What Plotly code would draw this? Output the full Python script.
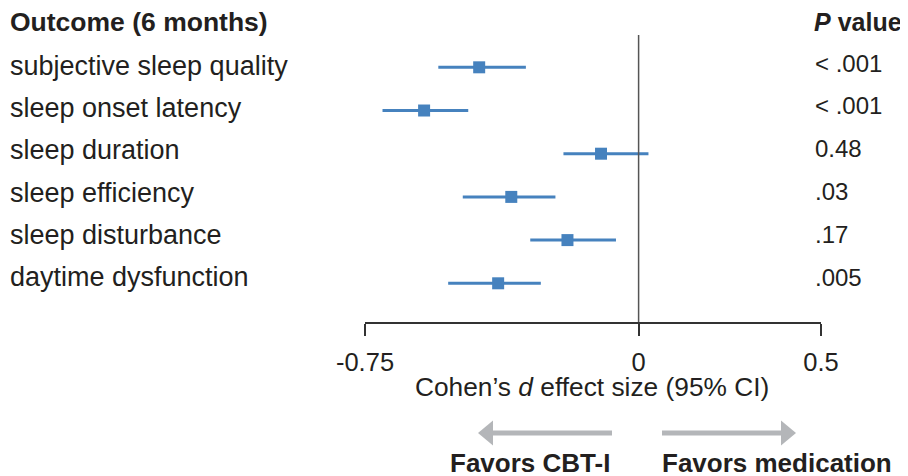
import plotly.graph_objects as go

# ---- data ----
outcomes = ["subjective sleep quality", "sleep onset latency", "sleep duration",
            "sleep efficiency", "sleep disturbance", "daytime dysfunction"]
effect = [-0.437, -0.588, -0.103, -0.349, -0.195, -0.385]
ci_low = [-0.549, -0.702, -0.206, -0.482, -0.297, -0.522]
ci_high = [-0.309, -0.467, 0.027, -0.228, -0.062, -0.268]
p_values = ["< .001", "< .001", "0.48", ".03", ".17", ".005"]
tick_vals = [-0.75, 0, 0.5]
tick_text = ["-0.75", "0", "0.5"]

# page body has an 8px margin; size the figure to the visible area
OFF = 8
W, H = 900, 468
FONT = "Liberation Sans, Arial, Helvetica, sans-serif"
TXT = "#231f20"
BLUE = "#4682be"
GREY = "#b4b6b9"


def px(x):
    return (x - OFF) / W


def py(y):
    return 1 - (y - OFF) / H


rows = list(range(len(outcomes)))
ypos = [-r for r in rows]

fig = go.Figure()
fig.add_trace(go.Scatter(
    x=effect, y=ypos, mode="markers",
    marker=dict(symbol="square", size=12, color=BLUE),
    error_x=dict(type="data", symmetric=False,
                 array=[h - e for h, e in zip(ci_high, effect)],
                 arrayminus=[e - l for e, l in zip(effect, ci_low)],
                 thickness=3, width=0, color=BLUE),
    showlegend=False, hoverinfo="skip",
))

annotations = []
# header texts
annotations.append(dict(x=px(8), y=py(22), xref="paper", yref="paper", xanchor="left", yanchor="middle",
                        text="<b>Outcome (6 months)</b>", showarrow=False,
                        font=dict(size=26.5, color=TXT, family=FONT)))
annotations.append(dict(x=px(812), y=py(22), xref="paper", yref="paper", xanchor="left", yanchor="middle",
                        text="<b><i>P</i> value</b>", showarrow=False,
                        font=dict(size=25, color=TXT, family=FONT)))
# row labels and p values
for i, (name, p) in enumerate(zip(outcomes, p_values)):
    annotations.append(dict(x=px(8), y=py(66 + 42.2 * i), xref="paper", yref="paper",
                            xanchor="left", yanchor="middle", text=name, showarrow=False,
                            font=dict(size=27, color=TXT, family=FONT)))
    annotations.append(dict(x=px(813), y=py(63 + 42.8 * i), xref="paper", yref="paper",
                            xanchor="left", yanchor="middle", text=p, showarrow=False,
                            font=dict(size=24, color=TXT, family=FONT)))
# axis title
annotations.append(dict(x=px(592), y=py(387), xref="paper", yref="paper", xanchor="center", yanchor="middle",
                        text="Cohen\u2019s <i>d</i> effect size (95% CI)", showarrow=False,
                        font=dict(size=26.3, color=TXT, family=FONT)))
# favors labels
annotations.append(dict(x=px(612), y=py(463), xref="paper", yref="paper", xanchor="right", yanchor="middle",
                        text="<b>Favors CBT-I</b>", showarrow=False,
                        font=dict(size=26, color=TXT, family=FONT)))
annotations.append(dict(x=px(660), y=py(463), xref="paper", yref="paper", xanchor="left", yanchor="middle",
                        text="<b>Favors medication</b>", showarrow=False,
                        font=dict(size=26, color=TXT, family=FONT)))

shapes = [
    # zero reference line
    dict(type="line", xref="x", yref="y domain", x0=0, x1=0, y0=0, y1=1,
         line=dict(color="#555555", width=1.5)),
    # left arrow
    dict(type="line", xref="paper", yref="paper", x0=px(612), x1=px(490), y0=py(433), y1=py(433),
         line=dict(color=GREY, width=5)),
    dict(type="path", xref="paper", yref="paper",
         path=f"M {px(478)},{py(433)} L {px(493)},{py(420.5)} L {px(493)},{py(445.5)} Z",
         fillcolor=GREY, line=dict(width=0)),
    # right arrow
    dict(type="line", xref="paper", yref="paper", x0=px(662), x1=px(784), y0=py(433), y1=py(433),
         line=dict(color=GREY, width=5)),
    dict(type="path", xref="paper", yref="paper",
         path=f"M {px(796)},{py(433)} L {px(781)},{py(420.5)} L {px(781)},{py(445.5)} Z",
         fillcolor=GREY, line=dict(width=0)),
]

fig.update_layout(
    width=W, height=H, autosize=False,
    margin=dict(l=0, r=0, t=0, b=0, pad=0, autoexpand=False),
    paper_bgcolor="white", plot_bgcolor="white",
    font=dict(family=FONT, color=TXT),
    xaxis=dict(range=[-0.75, 0.5], domain=[px(365), px(821)], automargin=False,
               tickvals=tick_vals, ticktext=tick_text,
               ticks="outside", ticklen=12, tickwidth=1.5, tickcolor="#333333",
               ticklabelstandoff=5,
               showline=True, linecolor="#333333", linewidth=1.5,
               showgrid=False, zeroline=False,
               tickfont=dict(size=25.5, color=TXT, family=FONT)),
    yaxis=dict(range=[-5.896, 0.748], domain=[py(322), py(35)], automargin=False,
               visible=False, showgrid=False, zeroline=False),
    annotations=annotations,
    shapes=shapes,
)

fig.write_html("out.html")
